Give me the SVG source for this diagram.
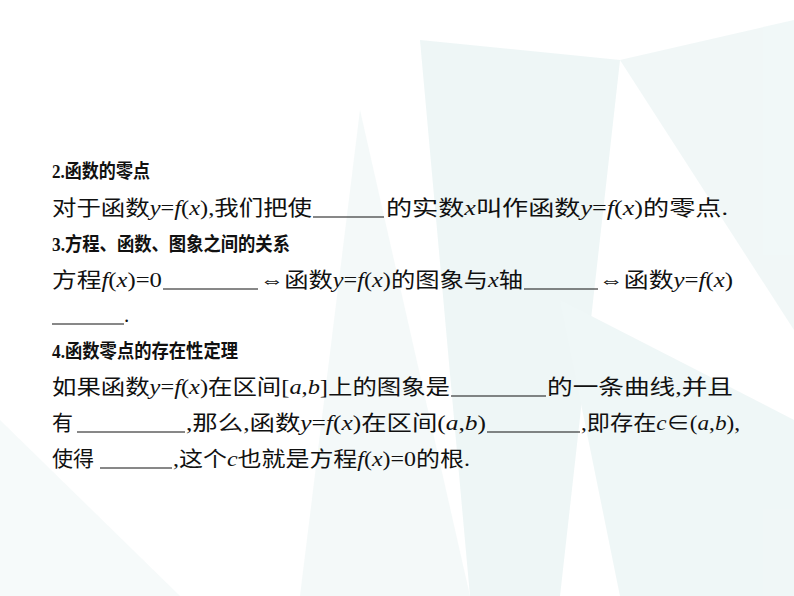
<svg xmlns="http://www.w3.org/2000/svg" width="794" height="596" viewBox="0 0 794 596">
<style>
.t{font-family:"Liberation Serif","Noto Sans CJK SC",serif;font-size:21px;fill:#111}
.h{font-weight:bold;font-size:19px}
.i{font-style:italic}
.u{stroke:#111;stroke-width:1}
</style>
<rect width="794" height="596" fill="#fff"/>
<g id="background" opacity="0.6">
<polygon points="420,40 620,60 560,596 470,596" fill="#e3f1f1"/>
<polygon points="620,60 794,20 794,330" fill="#e8f3f3"/>
<polygon points="360,110 470,596 300,596" fill="#eef6f6"/>
<polygon points="560,300 794,420 794,596 620,596" fill="#e6f2f2"/>
<polygon points="0,420 180,596 0,596" fill="#f0f6f6"/>
</g>
<g id="text">
<text class="t h" x="52" y="178" textLength="98" lengthAdjust="spacingAndGlyphs">2.函数的零点</text>
<text class="t" x="52" y="215" textLength="260" lengthAdjust="spacingAndGlyphs">对于函数<tspan class="i">y</tspan>=<tspan class="i">f</tspan>(<tspan class="i">x</tspan>),我们把使</text>
<line class="u" x1="313" y1="217" x2="384" y2="217"/>
<text class="t" x="386" y="215" textLength="342" lengthAdjust="spacingAndGlyphs">的实数<tspan class="i">x</tspan>叫作函数<tspan class="i">y</tspan>=<tspan class="i">f</tspan>(<tspan class="i">x</tspan>)的零点.</text>
<text class="t h" x="52" y="251" textLength="238" lengthAdjust="spacingAndGlyphs">3.方程、函数、图象之间的关系</text>
<text class="t" x="52" y="287" textLength="110" lengthAdjust="spacingAndGlyphs">方程<tspan class="i">f</tspan>(<tspan class="i">x</tspan>)=0</text>
<line class="u" x1="163" y1="289" x2="258" y2="289"/>
<text class="t" x="260" y="287" textLength="263" lengthAdjust="spacingAndGlyphs">⇔函数<tspan class="i">y</tspan>=<tspan class="i">f</tspan>(<tspan class="i">x</tspan>)的图象与<tspan class="i">x</tspan>轴</text>
<line class="u" x1="524" y1="289" x2="598" y2="289"/>
<text class="t" x="599" y="287" textLength="134" lengthAdjust="spacingAndGlyphs">⇔函数<tspan class="i">y</tspan>=<tspan class="i">f</tspan>(<tspan class="i">x</tspan>)</text>
<line class="u" x1="52" y1="324" x2="124" y2="324"/>
<text class="t" x="124" y="322">.</text>
<text class="t h" x="52" y="358" textLength="186" lengthAdjust="spacingAndGlyphs">4.函数零点的存在性定理</text>
<text class="t" x="52" y="394" textLength="398" lengthAdjust="spacingAndGlyphs">如果函数<tspan class="i">y</tspan>=<tspan class="i">f</tspan>(<tspan class="i">x</tspan>)在区间[<tspan class="i">a</tspan>,<tspan class="i">b</tspan>]上的图象是</text>
<line class="u" x1="451" y1="396" x2="546" y2="396"/>
<text class="t" x="547" y="394" textLength="186" lengthAdjust="spacingAndGlyphs">的一条曲线,并且</text>
<text class="t" x="52" y="430">有</text>
<line class="u" x1="77" y1="432" x2="185" y2="432"/>
<text class="t" x="186" y="430" textLength="300" lengthAdjust="spacingAndGlyphs">,那么,函数<tspan class="i">y</tspan>=<tspan class="i">f</tspan>(<tspan class="i">x</tspan>)在区间(<tspan class="i">a</tspan>,<tspan class="i">b</tspan>)</text>
<line class="u" x1="487" y1="432" x2="580" y2="432"/>
<text class="t" x="581" y="430" textLength="159" lengthAdjust="spacingAndGlyphs">,即存在<tspan class="i">c</tspan>∈(<tspan class="i">a</tspan>,<tspan class="i">b</tspan>),</text>
<text class="t" x="52" y="466">使得</text>
<line class="u" x1="100" y1="468" x2="172" y2="468"/>
<text class="t" x="173" y="466" textLength="297" lengthAdjust="spacingAndGlyphs">,这个<tspan class="i">c</tspan>也就是方程<tspan class="i">f</tspan>(<tspan class="i">x</tspan>)=0的根.</text>
</g>
</svg>
